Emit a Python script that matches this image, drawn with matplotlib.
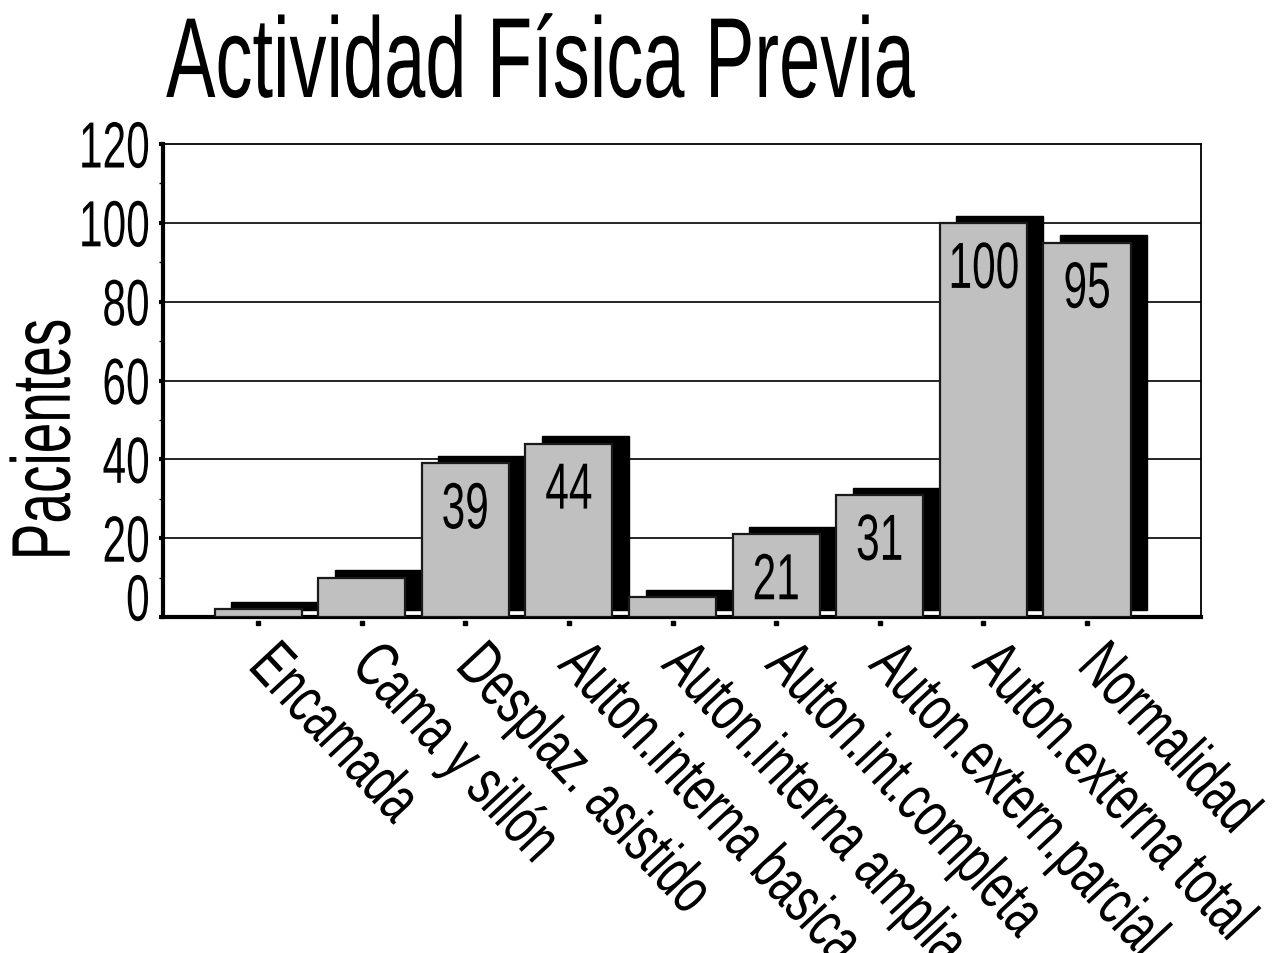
import numpy as np
import matplotlib.pyplot as plt
import matplotlib.transforms as mtransforms
from matplotlib.patheffects import AbstractPathEffect

plt.rcParams['font.family'] = ['Liberation Sans', 'DejaVu Sans']

# datos
categorias = ['Encamada', 'Cama y sillón', 'Desplaz. asistido', 'Auton.interna basica',
              'Auton.interna amplia', 'Auton.int.completa', 'Auton.extern.parcial',
              'Auton.externa total', 'Normalidad']
pacientes = [2, 10, 39, 44, 5, 21, 31, 100, 95]
etiquetados = [False, False, True, True, False, True, True, True, True]
yticks = [0, 20, 40, 60, 80, 100, 120]


# letra estrecha (tipo Arial Narrow comprimida)
class Estrecho(AbstractPathEffect):
    def __init__(self, sx=0.65, ancla=0.0):
        super().__init__()
        self.sx = sx
        self.ancla = ancla

    def draw_path(self, renderer, gc, tpath, affine, rgbFace=None):
        ext = tpath.get_extents()
        cx = ext.x0 + self.ancla * ext.width
        t = mtransforms.Affine2D().translate(-cx, 0).scale(self.sx, 1).translate(cx, 0) + affine
        renderer.draw_path(gc, tpath, t, rgbFace)


fig = plt.figure(figsize=(12.81, 9.54), dpi=100)
ax = fig.add_axes([163/1281, 1-618/954, 1038/1281, 473/954])

x = np.arange(len(categorias))
ancho = 0.84
dx, dy = 0.16, 1.8

# sombra negra desplazada
ax.bar(x + dx, pacientes, ancho, bottom=dy, color='black', edgecolor='black', lw=1, zorder=2)
# barras grises
ax.bar(x, pacientes, ancho, color='#c0c0c0', edgecolor='#1a1a1a', lw=1.6, zorder=3)

for xi, v, e in zip(x, pacientes, etiquetados):
    if e:
        ax.annotate(str(v), (xi, v), xytext=(0, -13), textcoords='offset points',
                    ha='center', va='top', fontsize=47, zorder=4,
                    path_effects=[Estrecho(0.65, 0.5)])

ax.set_xlim(-0.917, 9.10)
ax.set_ylim(0, 120)
ax.set_yticks(yticks)
ax.set_yticks(np.arange(10, 120, 20), minor=True)
ax.tick_params(axis='y', which='major', length=3, width=3, pad=6, labelsize=47)
ax.tick_params(axis='y', which='minor', length=3, width=1)
for g in yticks[1:-1]:
    ax.axhline(g, color='black', lw=1.2, zorder=1)

for t in ax.get_yticklabels():
    t.set_path_effects([Estrecho(0.65, 1.0)])
# etiqueta del 0 algo mas arriba
lab0 = ax.get_yticklabels()[0]
lab0.set_transform(lab0.get_transform() + mtransforms.ScaledTranslation(0, 20/100, fig.dpi_scale_trans))

ax.set_xticks(x)
etqs = ax.set_xticklabels(categorias, rotation=-47, ha='left', va='center',
                          rotation_mode='anchor', fontsize=47)
for t in etqs:
    t.set_path_effects([Estrecho(0.69, 0.0)])
ax.tick_params(axis='x', length=0, pad=27)
ax.plot(x, [-1.6]*len(x), 's', color='black', ms=3.5, clip_on=False, zorder=5)

for s in ['left', 'bottom']:
    ax.spines[s].set_linewidth(3)
for s in ['top', 'right']:
    ax.spines[s].set_linewidth(1.3)

yl = ax.set_ylabel('Pacientes', fontsize=60, va='center')
yl.set_path_effects([Estrecho(0.66, 0.5)])
ax.yaxis.set_label_coords(-0.111, 0.374)

fig.text(166/1281, 1-98/954, 'Actividad Física Previa', fontsize=82, ha='left',
         va='baseline', path_effects=[Estrecho(0.65, 0.0)])

fig.savefig('out.png', dpi=100)
